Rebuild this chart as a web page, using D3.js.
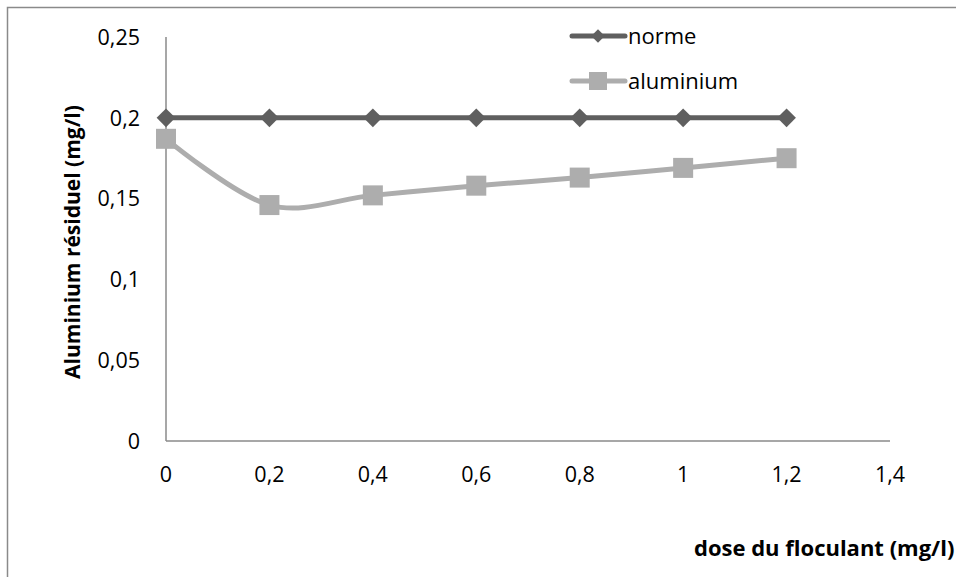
<!DOCTYPE html>
<html>
<head>
<meta charset="utf-8">
<script src="https://cdn.jsdelivr.net/npm/d3@7"></script>
<style>
  body { margin: 0; background: #fff; }
  text { font-family: "Open Sans", "Noto Sans", sans-serif; fill: #000; }
</style>
</head>
<body>
<svg id="chart" width="956" height="577"></svg>
<script>
// chart data
const doses = [0, 0.2, 0.4, 0.6, 0.8, 1, 1.2];
const norme = [0.2, 0.2, 0.2, 0.2, 0.2, 0.2, 0.2];
const aluminium = [0.187, 0.146, 0.152, 0.158, 0.163, 0.169, 0.175];
const xTicks = [0, 0.2, 0.4, 0.6, 0.8, 1, 1.2, 1.4];
const yTicks = [0, 0.05, 0.1, 0.15, 0.2, 0.25];

const svg = d3.select("#chart");
const fmt = (v) => String(+v.toFixed(2)).replace(".", ",");

// outer frame (right and bottom edges run off the picture)
svg.append("rect")
  .attr("x", 7.5).attr("y", 7.5)
  .attr("width", 1000).attr("height", 1000)
  .style("fill", "none")
  .style("stroke", "#8a8a8a")
  .style("stroke-width", 1.5);

const x = d3.scaleLinear().domain([0, 1.4]).range([166, 890]);
const y = d3.scaleLinear().domain([0, 0.25]).range([441, 37]);

// axes
svg.append("line")
  .attr("x1", x(0)).attr("x2", x(0))
  .attr("y1", y(0)).attr("y2", y(0.25))
  .style("stroke", "#8a8a8a").style("stroke-width", 1.5);
svg.append("line")
  .attr("x1", x(0)).attr("x2", x(1.4))
  .attr("y1", y(0)).attr("y2", y(0))
  .style("stroke", "#8a8a8a").style("stroke-width", 1.5);

svg.selectAll("text.ytick")
  .data(yTicks)
  .join("text")
  .attr("class", "ytick")
  .attr("x", 140)
  .attr("y", (d) => y(d))
  .attr("dy", "0.36em")
  .attr("text-anchor", "end")
  .style("font-size", "21.5px")
  .text(fmt);

svg.selectAll("text.xtick")
  .data(xTicks)
  .join("text")
  .attr("class", "xtick")
  .attr("x", (d) => x(d))
  .attr("y", 482)
  .attr("text-anchor", "middle")
  .style("font-size", "21.5px")
  .text(fmt);

// axis titles
svg.append("text")
  .attr("transform", "translate(80,242) rotate(-90)")
  .attr("text-anchor", "middle")
  .style("font-size", "21px")
  .style("font-weight", "bold")
  .text("Aluminium résiduel  (mg/l)");

svg.append("text")
  .attr("x", 694)
  .attr("y", 556)
  .style("font-size", "22px")
  .style("font-weight", "bold")
  .text("dose du floculant (mg/l)");

// series
const line = (vals) => d3.line()
  .x((d, i) => x(doses[i]))
  .y((d) => y(d))
  .curve(d3.curveCatmullRom.alpha(0))(vals);

svg.append("path")
  .attr("d", line(norme))
  .style("fill", "none")
  .style("stroke", "#5f5f5f")
  .style("stroke-width", 5);

svg.append("path")
  .attr("d", line(aluminium))
  .style("fill", "none")
  .style("stroke", "#adadad")
  .style("stroke-width", 5);

svg.selectAll("path.nm")
  .data(norme)
  .join("path")
  .attr("class", "nm")
  .attr("transform", (d, i) => `translate(${x(doses[i])},${y(d)}) rotate(45)`)
  .attr("d", d3.symbol().type(d3.symbolSquare).size(175)())
  .style("fill", "#5f5f5f");

svg.selectAll("rect.al")
  .data(aluminium)
  .join("rect")
  .attr("class", "al")
  .attr("x", (d, i) => x(doses[i]) - 10)
  .attr("y", (d) => y(d) - 10)
  .attr("width", 20)
  .attr("height", 20)
  .style("fill", "#adadad");

// legend
const legend = [
  { name: "norme", color: "#5f5f5f", y: 36, shape: "diamond" },
  { name: "aluminium", color: "#adadad", y: 81, shape: "square" },
];
legend.forEach((l) => {
  svg.append("line")
    .attr("x1", 572).attr("x2", 625)
    .attr("y1", l.y).attr("y2", l.y)
    .style("stroke", l.color).style("stroke-width", 5)
    .style("stroke-linecap", "round");
  if (l.shape === "diamond") {
    svg.append("path")
      .attr("transform", `translate(598,${l.y}) rotate(45)`)
      .attr("d", d3.symbol().type(d3.symbolSquare).size(90)())
      .style("fill", l.color);
  } else {
    svg.append("rect")
      .attr("x", 589).attr("y", l.y - 9)
      .attr("width", 18).attr("height", 18)
      .style("fill", l.color);
  }
  svg.append("text")
    .attr("x", 628)
    .attr("y", l.y)
    .attr("dy", "0.36em")
    .style("font-size", "22px")
    .text(l.name);
});
</script>
</body>
</html>
